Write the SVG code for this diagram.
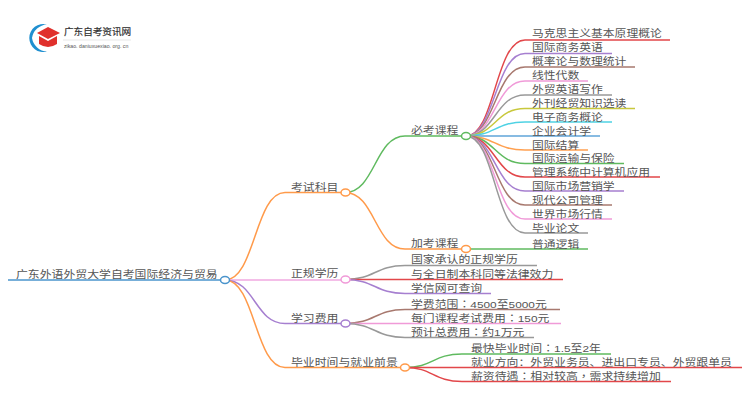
<svg xmlns="http://www.w3.org/2000/svg" width="750" height="410" viewBox="0 0 750 410">
<style>
text{font-family:"Liberation Sans","Noto Sans CJK SC",sans-serif;font-size:12px;fill:#555}
text.t{font-family:"Liberation Sans","Noto Sans CJK TC",sans-serif}
.c path,.c line{fill:none;stroke-width:1.5}
.n{fill:#fff;stroke-width:1.5}
</style>
<rect width="750" height="410" fill="#fff"/>
<g id="logo">
<path d="M47 24.500A14 14 0 1 0 47 51.500A16 16 0 0 1 32 38A16 16 0 0 1 47 24.500Z" fill="#1f8fd0"/>
<path d="M37 33L48 27L60 33L48 39Z" fill="#e0302c"/>
<path d="M39 36L48 41L57 36V44Q48 50 39 44Z" fill="#e0302c"/>
<text x="64" y="35" style="font-size:9.600px;fill:#333;stroke:#333;stroke-width:.2">广东自考资讯网</text>
<line x1="63" y1="40" x2="131" y2="40" stroke="#ddd" stroke-width=".7"/>
<text x="64" y="48" style="font-size:5.200px;fill:#555">zikao. daniuxuexiao. org. cn</text>
</g>
<g id="connectors" class="c">
<line x1="8" y1="280" x2="225" y2="280" stroke="#4a94cc"/>
<path d="M225 280C255 280 255 192.500 285 192.500H345" stroke="#ff9a4a"/>
<path d="M225 280H345" stroke="#f0a8e0"/>
<path d="M225 280C255 280 255 323.500 285 323.500H345" stroke="#a67fd0"/>
<path d="M225 280C255 280 255 367.500 285 367.500H405" stroke="#ff9a4a"/>
<path d="M345 192.500C375 192.500 375 136 405 136H466" stroke="#5fba5f"/>
<path d="M345 192.500C375 192.500 375 249 405 249H466" stroke="#ff9a4a"/>
<path d="M466 136C495 136 495 40 525 40H670" stroke="#e2474a"/>
<path d="M466 136C495 136 495 53.500 525 53.500H612" stroke="#a67fd0"/>
<path d="M466 136C495 136 495 67 525 67H635" stroke="#a8796f"/>
<path d="M466 136C495 136 495 81 525 81H588" stroke="#f09ad8"/>
<path d="M466 136C495 136 495 95 525 95H612" stroke="#999"/>
<path d="M466 136C495 136 495 108.500 525 108.500H635" stroke="#c8c83c"/>
<path d="M466 136C495 136 495 122 525 122H612" stroke="#4fd2e4"/>
<path d="M466 136H600" stroke="#5fa5d8"/>
<path d="M466 136C495 136 495 150 525 150H588" stroke="#ffa050"/>
<path d="M466 136C495 136 495 163.500 525 163.500H624" stroke="#5fba5f"/>
<path d="M466 136C495 136 495 177 525 177H660" stroke="#e2474a"/>
<path d="M466 136C495 136 495 191 525 191H624" stroke="#a67fd0"/>
<path d="M466 136C495 136 495 205 525 205H612" stroke="#a8796f"/>
<path d="M466 136C495 136 495 219 525 219H612" stroke="#f09ad8"/>
<path d="M466 136C495 136 495 233 525 233H588" stroke="#999"/>
<path d="M466 249H588" stroke="#5fba5f"/>
<path d="M345 279.500C375 279.500 375 265.500 405 265.500H537" stroke="#999"/>
<path d="M345 279.500H563" stroke="#e2474a"/>
<path d="M345 279.500C375 279.500 375 293.500 405 293.500H491" stroke="#a67fd0"/>
<path d="M345 323.500C375 323.500 375 309.500 405 309.500H560" stroke="#a8796f"/>
<path d="M345 323.500H561" stroke="#f09ad8"/>
<path d="M345 323.500C375 323.500 375 337.500 405 337.500H534" stroke="#999"/>
<path d="M405 367.500C433 367.500 433 354 462 354H611" stroke="#5fba5f"/>
<path d="M405 367.500H742" stroke="#e2474a"/>
<path d="M405 367.500C433 367.500 433 381.500 462 381.500H671" stroke="#e2474a"/>
</g>
<g id="root"><text transform="translate(16 278) scale(.99 .82)">广东外语外贸大学自考国际经济与贸易</text><ellipse class="n" cx="225" cy="280" rx="4.500" ry="3.500" stroke="#4a94cc"/></g>
<g id="n1"><text transform="translate(291 190.500) scale(.99 .82)">考试科目</text><ellipse class="n" cx="345.500" cy="192.500" rx="4.500" ry="3.500" stroke="#ff9a4a"/></g>
<g id="n2"><text transform="translate(291 277) scale(.99 .82)">正规学历</text><ellipse class="n" cx="345.500" cy="279.500" rx="4.500" ry="3.500" stroke="#f09ad8"/></g>
<g id="n3"><text transform="translate(291 321.500) scale(.99 .82)">学习费用</text><ellipse class="n" cx="345.500" cy="323.500" rx="4.500" ry="3.500" stroke="#a67fd0"/></g>
<g id="n4"><text transform="translate(291 365.500) scale(.99 .82)">毕业时间与就业前景</text><ellipse class="n" cx="405" cy="367.500" rx="4.500" ry="3.500" stroke="#ff9a4a"/></g>
<g id="n1-1"><text transform="translate(411 134) scale(.99 .82)">必考课程</text><ellipse class="n" cx="466" cy="136" rx="4.500" ry="3.500" stroke="#5fba5f"/></g>
<g id="n1-2"><text transform="translate(411 247) scale(.99 .82)">加考课程</text><ellipse class="n" cx="466" cy="249" rx="4.500" ry="3.500" stroke="#ff9a4a"/></g>
<g id="leaves-a">
<text transform="translate(532 37) scale(.985 .82)">马克思主义基本原理概论</text>
<text transform="translate(532 51) scale(.985 .82)">国际商务英语</text>
<text transform="translate(532 64.500) scale(.985 .82)">概率论与数理统计</text>
<text transform="translate(532 79) scale(.985 .82)">线性代数</text>
<text transform="translate(532 93) scale(.985 .82)">外贸英语写作</text>
<text transform="translate(532 106.500) scale(.985 .82)">外刊经贸知识选读</text>
<text transform="translate(532 120.500) scale(.985 .82)">电子商务概论</text>
<text transform="translate(532 134.500) scale(.985 .82)">企业会计学</text>
<text transform="translate(532 148.500) scale(.985 .82)">国际结算</text>
<text transform="translate(532 162) scale(.985 .82)">国际运输与保险</text>
<text transform="translate(532 175.500) scale(.985 .82)">管理系统中计算机应用</text>
<text transform="translate(532 189.500) scale(.985 .82)">国际市场营销学</text>
<text transform="translate(532 203.500) scale(.985 .82)">现代公司管理</text>
<text transform="translate(532 217.500) scale(.985 .82)">世界市场行情</text>
<text transform="translate(532 231.500) scale(.985 .82)">毕业论文</text>
<text transform="translate(532 247.500) scale(.985 .82)">普通逻辑</text>
</g>
<g id="leaves-b">
<text transform="translate(411 263) scale(.99 .82)">国家承认的正规学历</text>
<text transform="translate(411 277.500) scale(.99 .82)">与全日制本科同等法律效力</text>
<text transform="translate(411 291.500) scale(.99 .82)">学信网可查询</text>
<text class="t" transform="translate(411 308) scale(.99 .82)">学费范围：4500至5000元</text>
<text class="t" transform="translate(411 322) scale(.99 .82)">每门课程考试费用：150元</text>
<text class="t" transform="translate(411 336) scale(.99 .82)">预计总费用：约1万元</text>
</g>
<g id="leaves-c">
<text class="t" transform="translate(471 351.700) scale(.99 .82)">最快毕业时间：1.5至2年</text>
<text transform="translate(471 366) scale(.99 .82)">就业方向：外贸业务员、进出口专员、外贸跟单员</text>
<text class="t" transform="translate(471 380) scale(.99 .82)">薪资待遇：相对较高，需求持续增加</text>
</g>
</svg>
